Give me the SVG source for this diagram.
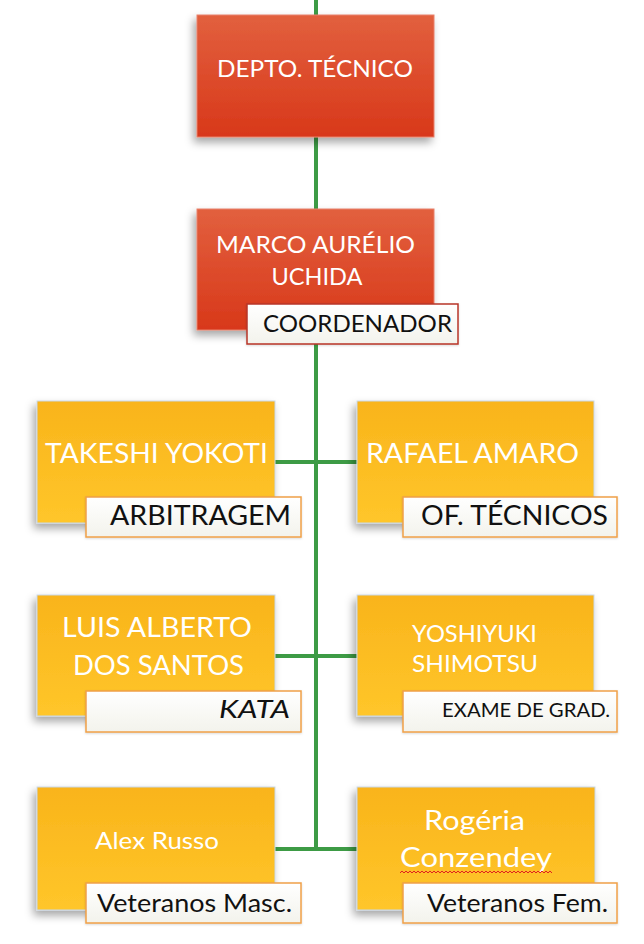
<svg xmlns="http://www.w3.org/2000/svg" width="644" height="944" viewBox="0 0 644 944">
<defs>
<linearGradient id="gRed" x1="0" y1="0" x2="0" y2="1">
<stop offset="0" stop-color="#e2603e"/>
<stop offset="1" stop-color="#d8381a"/>
</linearGradient>
<linearGradient id="gYel" x1="0" y1="0" x2="0" y2="1">
<stop offset="0" stop-color="#f9b41b"/>
<stop offset="1" stop-color="#ffc62a"/>
</linearGradient>
<linearGradient id="gLab" x1="0" y1="0" x2="0" y2="1">
<stop offset="0" stop-color="#ffffff"/>
<stop offset="1" stop-color="#f3f3ec"/>
</linearGradient>
<filter id="sh" x="-20%" y="-20%" width="140%" height="150%">
<feDropShadow dx="-3" dy="5" stdDeviation="4" flood-color="#000" flood-opacity="0.35"/>
</filter>
<filter id="sh2" x="-20%" y="-30%" width="140%" height="170%">
<feDropShadow dx="0" dy="1" stdDeviation="1" flood-color="#000" flood-opacity="0.15"/>
</filter>
</defs>
<style>
.red{fill:url(#gRed);stroke:#e8806a;stroke-width:1;filter:url(#sh)}
.yel{fill:url(#gYel);stroke:#c9d8e8;stroke-width:1;filter:url(#sh)}
.lab{fill:url(#gLab);stroke:#f0a048;stroke-width:1.5;filter:url(#sh2)}
.labr{fill:url(#gLab);stroke:#b83428;stroke-width:1.5;filter:url(#sh2)}
.wt{font-family:Lato,"Open Sans",sans-serif;fill:#ffffff;text-anchor:middle}
.bt{font-family:Lato,"Open Sans",sans-serif;fill:#111111}
.conn{stroke:#3d9b45;stroke-width:4;fill:none}
</style>
<rect width="644" height="944" fill="#ffffff"/>
<g id="connectors">
<line class="conn" x1="316" y1="0" x2="316" y2="850"/>
<line class="conn" x1="275" y1="462" x2="357" y2="462"/>
<line class="conn" x1="275" y1="656" x2="357" y2="656"/>
<line class="conn" x1="275" y1="849" x2="357" y2="849"/>
</g>
<g id="depto">
<rect class="red" x="197" y="15" width="237" height="122"/>
<text class="wt" x="315" y="77" font-size="24" textLength="196" lengthAdjust="spacingAndGlyphs">DEPTO. TÉCNICO</text>
</g>
<g id="marco">
<rect class="red" x="197" y="209" width="237" height="121"/>
<text class="wt" x="315.5" y="253" font-size="24" textLength="199" lengthAdjust="spacingAndGlyphs">MARCO AURÉLIO</text>
<text class="wt" x="317" y="285" font-size="24" textLength="91" lengthAdjust="spacingAndGlyphs">UCHIDA</text>
<rect class="labr" x="247" y="304" width="211" height="40"/>
<text class="bt" x="263" y="332" font-size="23" textLength="189" lengthAdjust="spacingAndGlyphs">COORDENADOR</text>
</g>
<g id="takeshi">
<rect class="yel" x="37" y="401" width="238" height="122"/>
<text class="wt" x="156.5" y="463" font-size="27" textLength="223" lengthAdjust="spacingAndGlyphs">TAKESHI YOKOTI</text>
<rect class="lab" x="86" y="497" width="215" height="40"/>
<text class="bt" x="110" y="525" font-size="27" textLength="181" lengthAdjust="spacingAndGlyphs">ARBITRAGEM</text>
</g>
<g id="rafael">
<rect class="yel" x="357" y="401" width="237" height="122"/>
<text class="wt" x="472.5" y="463" font-size="27" textLength="213" lengthAdjust="spacingAndGlyphs">RAFAEL AMARO</text>
<rect class="lab" x="403" y="497" width="214" height="40"/>
<text class="bt" x="421" y="525" font-size="27" textLength="187" lengthAdjust="spacingAndGlyphs">OF. TÉCNICOS</text>
</g>
<g id="luis">
<rect class="yel" x="37" y="595" width="238" height="121"/>
<text class="wt" x="157" y="637" font-size="26" textLength="190" lengthAdjust="spacingAndGlyphs">LUIS ALBERTO</text>
<text class="wt" x="158.5" y="675" font-size="26" textLength="171" lengthAdjust="spacingAndGlyphs">DOS SANTOS</text>
<rect class="lab" x="86" y="691" width="215" height="41"/>
<text class="bt" x="219" y="718" font-size="25" font-style="italic" textLength="71" lengthAdjust="spacingAndGlyphs">KATA</text>
</g>
<g id="yoshiyuki">
<rect class="yel" x="357" y="595" width="237" height="121"/>
<text class="wt" x="474.5" y="642" font-size="23" textLength="125" lengthAdjust="spacingAndGlyphs">YOSHIYUKI</text>
<text class="wt" x="475" y="672" font-size="23" textLength="126" lengthAdjust="spacingAndGlyphs">SHIMOTSU</text>
<rect class="lab" x="403" y="691" width="214" height="41"/>
<text class="bt" x="442" y="717" font-size="19" textLength="168" lengthAdjust="spacingAndGlyphs">EXAME DE GRAD.</text>
</g>
<g id="alex">
<rect class="yel" x="37" y="787" width="238" height="123"/>
<text class="wt" x="157" y="849" font-size="23" textLength="124" lengthAdjust="spacingAndGlyphs">Alex Russo</text>
<rect class="lab" x="86" y="883" width="215" height="40"/>
<text class="bt" x="97" y="912" font-size="25" textLength="195" lengthAdjust="spacingAndGlyphs">Veteranos Masc.</text>
</g>
<g id="rogeria">
<rect class="yel" x="357" y="787" width="238" height="123"/>
<text class="wt" x="474.5" y="830" font-size="27" textLength="101" lengthAdjust="spacingAndGlyphs">Rogéria</text>
<text class="wt" x="476" y="867" font-size="27" textLength="152" lengthAdjust="spacingAndGlyphs">Conzendey</text>
<path d="M400 873 l2 -2 l2 2 l2 -2 l2 2 l2 -2 l2 2 l2 -2 l2 2 l2 -2 l2 2 l2 -2 l2 2 l2 -2 l2 2 l2 -2 l2 2 l2 -2 l2 2 l2 -2 l2 2 l2 -2 l2 2 l2 -2 l2 2 l2 -2 l2 2 l2 -2 l2 2 l2 -2 l2 2 l2 -2 l2 2 l2 -2 l2 2 l2 -2 l2 2 l2 -2 l2 2 l2 -2 l2 2 l2 -2 l2 2 l2 -2 l2 2 l2 -2 l2 2 l2 -2 l2 2 l2 -2 l2 2 l2 -2 l2 2 l2 -2 l2 2 l2 -2 l2 2 l2 -2 l2 2 l2 -2 l2 2 l2 -2 l2 2 l2 -2 l2 2 l2 -2 l2 2 l2 -2 l2 2 l2 -2 l2 2 l2 -2 l2 2 l2 -2 l2 2 l2 -2 l2 2" fill="none" stroke="#e02020" stroke-width="1"/>
<rect class="lab" x="403" y="883" width="214" height="40"/>
<text class="bt" x="427" y="912" font-size="25" textLength="181" lengthAdjust="spacingAndGlyphs">Veteranos Fem.</text>
</g>
</svg>
